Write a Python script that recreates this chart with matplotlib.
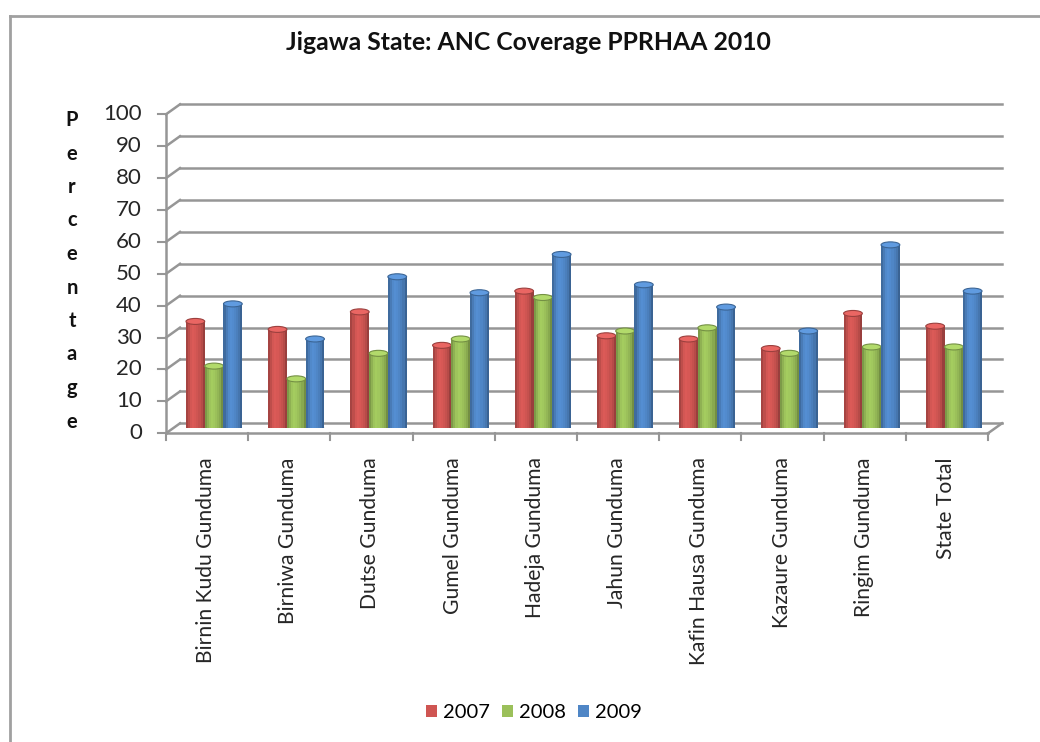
import numpy as np
import matplotlib.pyplot as plt
from matplotlib.patches import Ellipse, Patch
from matplotlib.lines import Line2D
from matplotlib.colors import to_rgb

# ANC coverage (%) by LGA and year
lgas = ["Birnin Kudu Gunduma", "Birniwa Gunduma", "Dutse Gunduma", "Gumel Gunduma",
        "Hadeja Gunduma", "Jahun Gunduma", "Kafin Hausa Gunduma", "Kazaure Gunduma",
        "Ringim Gunduma", "State Total"]
years = ["2007", "2008", "2009"]
cov_2007 = [33.5, 31.0, 36.5, 26.0, 43.0, 29.0, 28.0, 25.0, 36.0, 32.0]
cov_2008 = [19.5, 15.5, 23.5, 28.0, 41.0, 30.5, 31.5, 23.5, 25.5, 25.5]
cov_2009 = [39.0, 28.0, 47.5, 42.5, 54.5, 45.0, 38.0, 30.5, 57.5, 43.0]
yticks = list(range(0, 101, 10))

colors = ["#CF5552", "#9BC05A", "#4F86C6"]
FONT = "Lato"

W, H = 1040, 742
fig = plt.figure(figsize=(W / 100, H / 100), dpi=100)
fig.patch.set_facecolor("white")

# plot area in pixels (mid-depth plane of the pseudo-3D box)
x0_px, x1_px = 173.0, 995.0
y0_px, y1_px = 428.3, 109.3
ax = fig.add_axes([x0_px / W, 1 - y0_px / H, (x1_px - x0_px) / W, (y0_px - y1_px) / H])
ax.set_xlim(-0.5, 9.5)
ax.set_ylim(0, 100)
ax.axis("off")

upx_x = 10.0 / (x1_px - x0_px)     # category units per pixel
upx_y = 100.0 / (y0_px - y1_px)    # value units per pixel
dx = 7 * upx_x                     # depth offset (half)
dy = 5 * upx_y
grid_c = "#969696"

# back wall gridlines and left wall diagonals, front axis ticks
for v in yticks:
    ax.plot([-0.5 + dx, 9.5 + dx], [v + dy, v + dy], color=grid_c, lw=1.8, zorder=1, clip_on=False)
    ax.plot([-0.5 - dx, -0.5 + dx], [v - dy, v + dy], color=grid_c, lw=1.8, zorder=1, clip_on=False)
    ax.plot([-0.5 - dx - 8 * upx_x, -0.5 - dx], [v - dy, v - dy], color=grid_c, lw=1.5, clip_on=False)
    ax.text(-0.5 - dx - 24 * upx_x, v - dy, str(v), ha="right", va="center",
            fontsize=16, family=FONT, color="#262626")
ax.plot([-0.5 - dx, -0.5 - dx], [-dy, 100 - dy], color=grid_c, lw=1.8, clip_on=False)

# floor edges and category ticks
ax.plot([-0.5 - dx, 9.5 - dx], [-dy, -dy], color=grid_c, lw=1.8, clip_on=False, zorder=1)
ax.plot([9.5 - dx, 9.5 + dx], [-dy, dy], color=grid_c, lw=1.8, clip_on=False, zorder=1)
for i in range(len(lgas) + 1):
    xb = i - 0.5 - dx
    ax.plot([xb, xb], [-dy, -dy - 7 * upx_y], color=grid_c, lw=1.5, clip_on=False)

# category labels
for i, name in enumerate(lgas):
    ax.text(i - dx - 1 * upx_x, -dy - 24 * upx_y, name, rotation=90, ha="center", va="top",
            fontsize=15.2, family=FONT, color="#262626")

# bars with a cylinder-like shading and an elliptical top
bw = 0.228
n_strip = 9
shade = np.array([0.80, 0.92, 1.02, 1.06, 1.04, 1.0, 0.95, 0.88, 0.74])
series = [cov_2007, cov_2008, cov_2009]
x = np.arange(len(lgas))
for s, vals in enumerate(series):
    base = np.array(to_rgb(colors[s]))
    xc = x + (s - 1) * bw
    sw = bw / n_strip
    for k in range(n_strip):
        c = np.clip(base * shade[k], 0, 1)
        ax.bar(xc - bw / 2 + (k + 0.5) * sw, vals, width=sw * 1.02, color=c,
               linewidth=0, zorder=3 + s)
    for xi, v in zip(xc, vals):
        top = np.clip(base * 1.08 + 0.04, 0, 1)
        ax.add_patch(Ellipse((xi, v), bw, 6 * upx_y, facecolor=top,
                             edgecolor=np.clip(base * 0.75, 0, 1), lw=0.8, zorder=3.5 + s))
        ax.add_patch(Ellipse((xi, 0), bw, 5 * upx_y, facecolor=np.clip(base * 0.85, 0, 1),
                             lw=0, zorder=2.9 + s))

# title
fig.text(528 / W, 1 - 42 / H, "Jigawa State: ANC Coverage PPRHAA 2010", ha="center", va="center",
         fontsize=17.8, fontweight="bold", family=FONT, color="#111111")

# stacked y label
letters = "Percentage"
for j, ch in enumerate(letters):
    fig.text(72 / W, 1 - (120 + 33.5 * j) / H, ch, ha="center", va="center",
             fontsize=14.5, fontweight="bold", family=FONT, color="#111111")

# legend
handles = [Patch(facecolor=c, edgecolor="none") for c in colors]
fig.legend(handles, years, loc="center", bbox_to_anchor=(534 / W, 1 - 713 / H), ncol=3,
           frameon=False, handlelength=0.55, handleheight=0.55, handletextpad=0.3,
           columnspacing=0.6, prop={"family": FONT, "size": 14.5})

# chart border (left and top edges)
fig.add_artist(Line2D([9.5 / W, 9.5 / W], [0, 1 - 16 / H], transform=fig.transFigure,
                      color="#a0a0a0", lw=2))
fig.add_artist(Line2D([9.5 / W, 1], [1 - 16 / H, 1 - 16 / H], transform=fig.transFigure,
                      color="#a0a0a0", lw=2))

fig.savefig("out.png", dpi=100)
